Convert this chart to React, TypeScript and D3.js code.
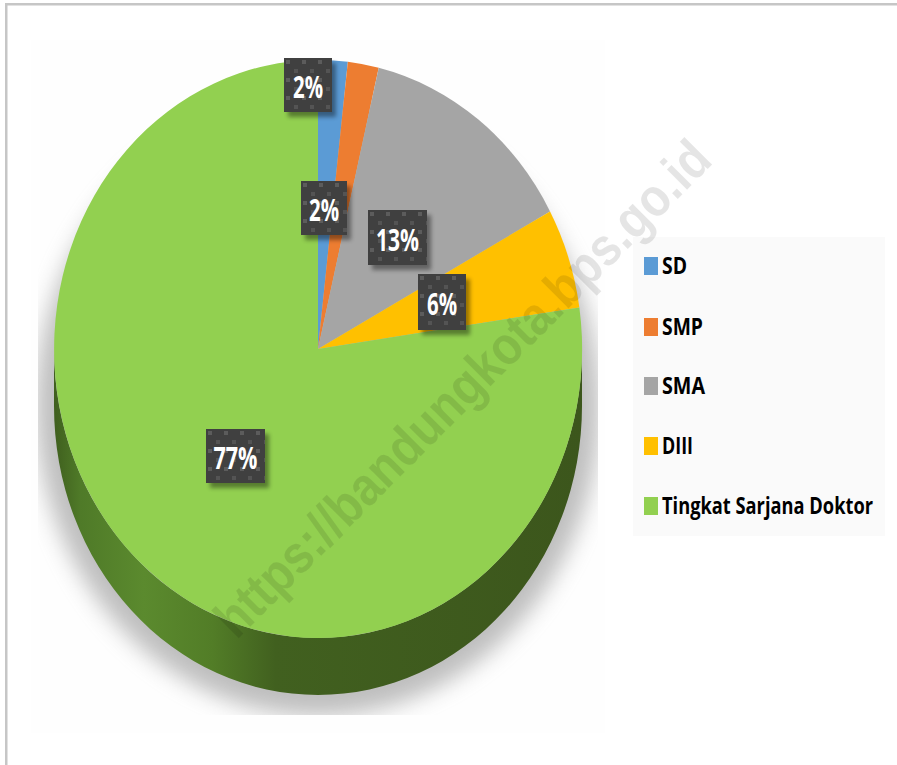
import React from "react";
import * as d3 from "d3";

const categories = ["SD", "SMP", "SMA", "DIII", "Tingkat Sarjana Doktor"];
const shares = [1.8, 1.9, 13.4, 5.6, 77.3];
const colors = ["#5b9bd5", "#ed7d31", "#a5a5a5", "#ffc000", "#92d050"];
const labelBoxes = [
  [284, 58, 48, 54],
  [301, 181, 46, 54],
  [368, 210, 59, 55],
  [418, 274, 48, 56],
  [206, 429, 59, 54],
];
const labelWidths = [30, 30, 43, 30, 44];
const legendBaselines = [274, 335, 394, 454, 514];
const legendWidths = [25, 41, 43, 31, 211];
const WATERMARK = "https://bandungkota.bps.go.id";
const FONT = "'Open Sans', sans-serif";

const cx = 318, cy = 349, rx = 264, ry = 289, depth = 57;

export default function App() {
  const slices = d3.pie<number>().sort(null)(shares);
  const arc = d3.arc<d3.PieArcDatum<number>>().innerRadius(0).outerRadius(1);
  const wallPath = `M${cx - rx},${cy} A${rx},${ry} 0 0 0 ${cx + rx},${cy} L${cx + rx},${cy + depth} A${rx},${ry} 0 0 1 ${cx - rx},${cy + depth} Z`;

  return (
    <svg width={897} height={765} style={{ position: "absolute", left: 0, top: 0, background: "#fff" }}>
      <defs>
        <filter id="blur" x="-20%" y="-20%" width="140%" height="140%">
          <feGaussianBlur stdDeviation="11" />
        </filter>
        <filter id="boxShadow" x="-30%" y="-30%" width="160%" height="160%">
          <feGaussianBlur stdDeviation="2" />
        </filter>
        <clipPath id="shadowClip">
          <rect x={38} y={50} width={560} height={665} />
        </clipPath>
        <linearGradient id="wall" gradientUnits="userSpaceOnUse" x1={cx - rx} x2={cx + rx} y1={0} y2={0}>
          <stop offset="0" stopColor="#3f5f1e" />
          <stop offset="0.05" stopColor="#4f7a28" />
          <stop offset="0.17" stopColor="#5b8a2e" />
          <stop offset="0.3" stopColor="#527d27" />
          <stop offset="0.42" stopColor="#41601f" />
          <stop offset="1" stopColor="#3c561c" />
        </linearGradient>
        <pattern id="dots" patternUnits="userSpaceOnUse" width={16} height={18}>
          <rect x={2} y={2} width={4} height={4} fill="#5c5c5c" />
          <rect x={10} y={11} width={4} height={4} fill="#545454" />
        </pattern>
      </defs>

      <rect x={5} y={3} width={892} height={2.5} fill="#c6c6c6" />
      <rect x={5} y={3} width={2.5} height={762} fill="#c6c6c6" />
      <rect x={31} y={40} width={574} height={693} fill="#fefefe" />

      <g clipPath="url(#shadowClip)">
        <ellipse cx={cx} cy={406} rx={282} ry={310} fill="#808080" filter="url(#blur)" opacity={0.5} />
      </g>

      <path d={wallPath} fill="url(#wall)" />
      <g transform={`translate(${cx},${cy}) scale(${rx},${ry})`}>
        {slices.map((s, i) => (
          <path key={categories[i]} d={arc(s) as string} fill={colors[i]} />
        ))}
      </g>

      <rect x={633} y={237} width={252} height={299} fill="#fafafa" />

      <text
        x={0}
        y={0}
        transform="translate(462,388) rotate(-45)"
        textAnchor="middle"
        dominantBaseline="central"
        textLength={676}
        lengthAdjust="spacingAndGlyphs"
        fontFamily="'Liberation Sans', Arial, sans-serif"
        fontWeight={700}
        fontSize={54}
        fill="#000"
        fillOpacity={0.1}
      >
        {WATERMARK}
      </text>

      {slices.map((s, i) => {
        const [x, y, w, h] = labelBoxes[i];
        return (
          <g key={categories[i]} transform={`translate(${x},${y})`}>
            <rect x={4} y={5} width={w} height={h} fill="#000" opacity={0.4} filter="url(#boxShadow)" />
            <rect width={w} height={h} fill="#404040" />
            <rect width={w} height={h} fill="url(#dots)" />
            <text
              x={w / 2}
              y={h / 2 + 13}
              textAnchor="middle"
              textLength={labelWidths[i]}
              lengthAdjust="spacingAndGlyphs"
              fontFamily={FONT}
              fontWeight={700}
              fontSize={30}
              fill="#fff"
            >
              {`${Math.round(s.data)}%`}
            </text>
          </g>
        );
      })}

      {categories.map((c, i) => (
        <g key={c}>
          <rect x={644} y={legendBaselines[i] - 17} width={14} height={18} fill={colors[i]} />
          <text
            x={662}
            y={legendBaselines[i]}
            textLength={legendWidths[i]}
            lengthAdjust="spacingAndGlyphs"
            fontFamily={FONT}
            fontWeight={700}
            fontSize={23}
            fill="#000"
          >
            {c}
          </text>
        </g>
      ))}
    </svg>
  );
}
